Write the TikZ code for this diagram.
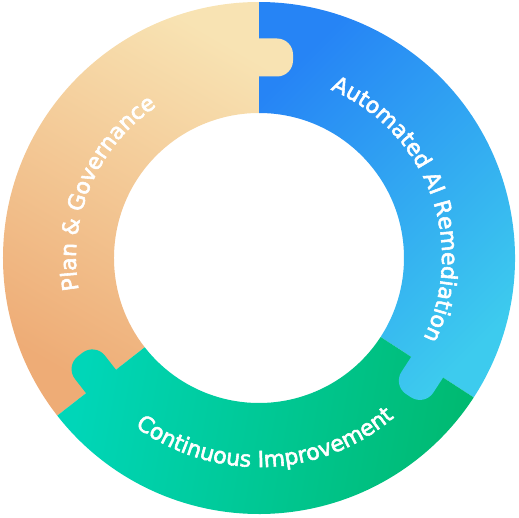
\documentclass[tikz,border=0pt]{standalone}
\usepackage{fontspec}
\newfontfamily\lblfont{DejaVu Sans}[FakeBold=2.6]
\usetikzlibrary{decorations.text}
\definecolor{orLight}{HTML}{F8E3B3}
\definecolor{orDark}{HTML}{EEAC76}
\definecolor{blDark}{HTML}{2684F5}
\definecolor{blLight}{HTML}{3DCBEE}
\definecolor{grTeal}{HTML}{00D6B8}
\definecolor{grGreen}{HTML}{00BA72}
\begin{document}
\begin{tikzpicture}[x=1pt,y=1pt,
  orshade/.style={top color=orLight, bottom color=orDark, shading angle=-30},
  blshade/.style={top color=blDark, bottom color=blLight, shading angle=45},
  grshade/.style={top color=grTeal, bottom color=grGreen, shading angle=80},
  ringlabel/.style={decorate, decoration={text along path, text align=center, text color=white,
    text={|\lblfont\fontsize{22}{22}\selectfont|#1}}}
]
\useasboundingbox (-259,-259) rectangle (260,258);
% ---- sectors
\begin{scope}
  \clip (90:256) arc[start angle=90,end angle=218,radius=256] -- (218:145) arc[start angle=218,end angle=90,radius=145] -- cycle;
  \shade[orshade] (-256,-158) rectangle (34,256);
\end{scope}
\begin{scope}
  \clip (-33:256) arc[start angle=-33,end angle=90,radius=256] -- (90:145) arc[start angle=90,end angle=-33,radius=145] -- cycle;
  \shade[blshade] (0,-150) rectangle (256,256);
\end{scope}
\begin{scope}
  \clip (218:256) arc[start angle=218,end angle=327,radius=256] -- (327:145) arc[start angle=327,end angle=218,radius=145] -- cycle;
  \shade[grshade] (-202,-256) rectangle (215,-79);
\end{scope}
% ---- tabs (drawn on top of the neighbouring segment)
\begin{scope}
  \clip (-3,181.5) -- (18,181.5) arc[start angle=-90,end angle=0,radius=16] -- (34,203.5) arc[start angle=0,end angle=90,radius=16] -- (-3,219.5) -- cycle;
  \shade[orshade] (-256,-158) rectangle (34,256);
\end{scope}
\begin{scope}
  \clip[rotate=-123] (-3,181.5) -- (18,181.5) arc[start angle=-90,end angle=0,radius=16] -- (34,203.5) arc[start angle=0,end angle=90,radius=16] -- (-3,219.5) -- cycle;
  \shade[blshade] (0,-150) rectangle (256,256);
\end{scope}
\begin{scope}
  \clip[rotate=128] (-3,181.5) -- (18,181.5) arc[start angle=-90,end angle=0,radius=16] -- (34,203.5) arc[start angle=0,end angle=90,radius=16] -- (-3,219.5) -- cycle;
  \shade[grshade] (-202,-256) rectangle (215,-79);
\end{scope}
% ---- labels
\path[ringlabel={Automated AI Remediation}] (80.5:183) arc[start angle=80.5,end angle=-39.5,radius=183];
\path[ringlabel={Plan {\&} Governance}] (217:183) arc[start angle=217,end angle=97,radius=183];
\path[ringlabel={Continuous Improvement}] (217:209) arc[start angle=217,end angle=327,radius=209];
\end{tikzpicture}
\end{document}
